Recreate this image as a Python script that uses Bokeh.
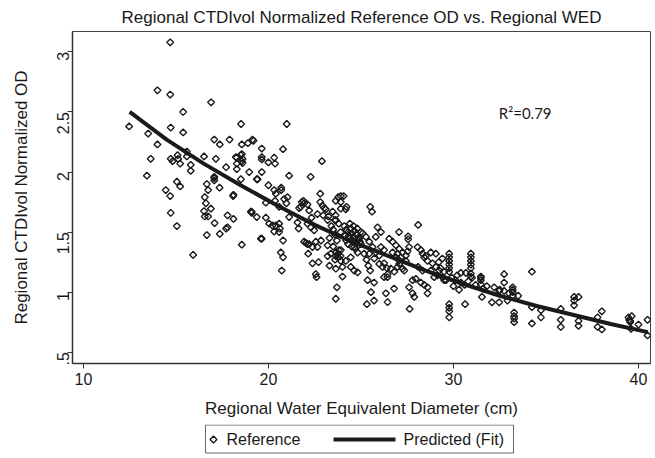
import math
from bokeh.plotting import figure
from bokeh.models import Range1d, FixedTicker, Label
from bokeh.layouts import column
from bokeh.core.properties import value
from bokeh.embed import file_html
from bokeh.resources import INLINE

# ---------------- data ----------------
wed = [
    14.69, 14.0, 14.69, 16.9, 15.39, 12.47, 14.72, 13.5, 15.39, 14.0, 17.07, 17.37, 17.9,
    13.64, 14.72, 14.82, 15.09, 15.12, 15.23, 15.59, 15.59, 15.8, 15.8, 16.52, 17.16, 17.71,
    13.43, 15.05, 15.23, 17.07, 17.07, 16.67, 17.36, 14.45, 14.69, 16.74, 16.56, 16.62, 16.52,
    16.56, 16.89, 16.74, 17.79, 14.72, 15.05, 17.09, 17.71, 16.67, 17.37, 15.93, 17.07,
    18.28, 18.51, 18.6, 18.29, 18.6, 18.96, 19.41, 18.51, 18.11, 19.09, 19.37, 18.56, 19.59, 18.11,
    18.52, 20.99, 18.56, 18.89, 19.14, 19.64, 20.79, 18.24, 18.56, 18.56, 18.29, 19.64, 19.64,
    20.0, 20.31, 20.36, 22.89, 19.64, 21.12, 22.28, 19.37, 18.09, 20.0, 20.31, 20.4, 20.69,
    20.69, 19.86, 20.36, 20.85, 21.03, 20.97, 20.58, 21.75, 21.8, 21.93, 22.8, 22.8, 22.92,
    23.1, 22.96, 19.05, 19.1, 17.79, 19.86, 20.04, 20.22, 20.4, 20.58, 20.62, 20.58, 20.31,
    21.12, 21.57, 21.63, 22.11, 22.29, 22.47, 19.64, 20.79, 21.93, 22.11, 22.15, 22.38, 22.56,
    22.65, 20.67, 20.79, 22.38, 22.71, 20.72, 22.56, 22.6, 19.19,
    21.89, 21.66, 22.11, 22.2, 22.33, 22.65, 23.02, 23.24, 23.47, 23.64, 23.77, 24.06, 24.18,
    22.02, 22.2, 22.84, 23.2, 23.37, 23.64, 23.77, 23.91, 24.18, 24.45, 24.63, 24.82, 24.9, 25.0,
    23.91, 23.64, 23.91, 24.22, 23.91, 23.63, 23.59, 25.5, 25.6, 28.09, 27.06, 27.55, 27.55,
    24.1, 24.2, 24.3, 24.35, 24.4, 24.45, 24.5, 24.55, 24.6, 24.65, 24.7, 24.75, 24.8, 24.85,
    24.9, 24.95, 25.0, 24.2, 24.3, 24.5, 24.7, 24.15, 24.4, 24.6, 24.8,
    25.9, 26.08, 25.8, 26.08, 26.25, 25.17, 25.3, 25.4, 25.5, 26.71, 26.98, 27.16, 27.43, 27.52,
    26.25, 26.4, 26.43, 23.64, 24.0, 24.45, 24.63, 24.82, 24.0, 23.7, 23.64, 25.71, 25.54, 25.71,
    25.32, 26.35, 26.44, 26.79, 27.6, 27.79, 27.88, 27.63, 27.79, 27.97, 28.24, 28.42, 28.6, 28.6,
    28.24, 28.33, 28.51, 28.78, 28.6, 28.87, 29.05, 28.09, 28.33, 28.78, 28.96, 29.14,
    23.64, 23.77, 23.91, 25.36, 26.25, 26.44, 26.62, 26.8, 26.98, 27.07, 27.34, 27.6, 28.06,
    28.42, 29.41,
    25.09, 25.27, 25.45, 25.63, 25.81, 25.99, 25.45, 25.72, 25.99, 26.17, 26.53, 26.71, 26.89,
    27.07, 27.25, 27.43, 26.89, 27.07, 27.25,
    23.2, 23.4, 23.5, 23.6, 23.3, 23.7, 23.8, 23.9, 23.5, 23.8, 23.2, 23.6, 23.9, 23.3,
    29.77, 29.77, 29.77, 29.77, 29.77, 29.77, 30.94, 30.94, 30.94, 30.94, 30.94, 30.94, 30.94,
    29.77, 29.77, 29.77, 29.77, 30.63, 30.4, 30.67, 31.48, 31.48, 31.54, 32.08, 32.47, 32.47,
    32.74, 32.74, 32.74, 33.2, 33.2, 33.2, 33.2, 32.92, 33.28, 33.28, 33.28, 33.28, 34.24, 34.24,
    34.24, 34.73, 34.73, 35.8, 35.8, 35.8, 36.52, 36.52, 36.52, 36.76, 36.76, 36.76, 37.79,
    38.02, 37.79, 38.02, 39.46, 39.5, 39.63, 40.0, 40.49, 40.49, 39.6, 39.55, 39.55, 29.05,
    29.23, 29.5,
    29.3, 29.5, 29.9, 30.1, 30.2, 30.4, 30.6, 30.8, 29.6, 30.0, 30.3, 31.0, 31.2, 31.6, 31.8,
    32.2, 32.5, 33.0, 33.5, 29.2, 29.4, 31.48, 31.48,
]
od = [
    3.08, 2.68, 2.645, 2.58, 2.50, 2.38, 2.37, 2.32, 2.33, 2.23, 2.27, 2.23, 2.27,
    2.11, 2.11, 2.09, 2.14, 2.11, 2.07, 2.17, 2.13, 2.06, 2.01, 2.13, 2.11, 2.04,
    1.97, 1.92, 1.88, 1.96, 1.93, 1.90, 1.87, 1.85, 1.80, 1.85, 1.79, 1.74, 1.675,
    1.63, 1.695, 1.63, 1.64, 1.66, 1.55, 1.575, 1.53, 1.475, 1.485, 1.31, 1.95,
    2.12, 2.14, 2.11, 2.07, 2.075, 2.0, 1.94, 1.94, 1.81, 1.67, 1.625, 1.395, 1.445, 1.61,
    2.40, 2.40, 2.23, 2.24, 2.27, 2.195, 2.19, 2.125, 2.15, 2.09, 2.025, 2.125, 2.105,
    2.08, 2.12, 2.07, 2.09, 2.0, 1.97, 1.96, 1.94, 1.80, 1.89, 1.85, 1.82, 1.87,
    1.85, 1.745, 1.76, 1.775, 1.79, 1.74, 1.71, 1.71, 1.75, 1.74, 1.82, 1.75, 1.72,
    1.69, 1.64, 1.67, 1.66, 1.54, 1.62, 1.57, 1.555, 1.555, 1.57, 1.53, 1.50, 1.505,
    1.625, 1.58, 1.53, 1.57, 1.54, 1.515, 1.445, 1.43, 1.42, 1.40, 1.32, 1.375, 1.42,
    1.375, 1.33, 1.29, 1.24, 1.25, 1.18, 1.15, 1.125, 2.26,
    1.76, 1.70, 1.73, 1.68, 1.62, 1.65, 1.70, 1.63, 1.67, 1.60, 1.79, 1.80, 1.69,
    1.41, 1.40, 1.43, 1.39, 1.32, 1.30, 1.32, 1.35, 1.26, 1.29, 1.375, 1.33, 1.445, 1.40,
    1.80, 1.76, 1.75, 1.71, 1.695, 1.64, 1.60, 1.71, 1.67, 1.56, 1.50, 1.465, 1.44,
    1.55, 1.52, 1.50, 1.47, 1.45, 1.53, 1.49, 1.43, 1.46, 1.51, 1.41, 1.48, 1.44, 1.39,
    1.46, 1.42, 1.50, 1.43, 1.40, 1.38, 1.36, 1.47, 1.57, 1.55, 1.53,
    1.54, 1.50, 1.46, 1.375, 1.35, 1.32, 1.27, 1.22, 1.18, 1.33, 1.32, 1.29, 1.26, 1.34,
    1.24, 1.20, 1.125, 1.195, 1.21, 1.21, 1.18, 1.165, 1.13, 1.04, 0.945, 1.08, 1.0, 0.93,
    0.90, 0.99, 0.917, 1.03, 1.04, 0.99, 0.96, 0.86, 1.10, 1.11, 1.08, 1.06, 1.04, 0.99,
    1.35, 1.32, 1.30, 1.33, 1.26, 1.24, 1.21, 1.21, 1.18, 1.18, 1.125, 1.14,
    1.33, 1.29, 1.26, 1.10, 1.125, 1.15, 1.195, 1.17, 1.21, 1.265, 1.18, 1.375, 1.375,
    1.29, 1.125,
    1.49, 1.46, 1.42, 1.375, 1.33, 1.305, 1.32, 1.28, 1.235, 1.21, 1.445, 1.42, 1.39,
    1.36, 1.33, 1.305, 1.29, 1.235, 1.195,
    1.60, 1.55, 1.52, 1.48, 1.45, 1.43, 1.57, 1.50, 1.38, 1.35, 1.30, 1.27, 1.30, 1.22,
    1.32, 1.29, 1.26, 1.23, 1.20, 1.17, 1.32, 1.29, 1.26, 1.23, 1.20, 1.155, 1.13,
    0.90, 0.87, 0.84, 0.79, 0.90, 1.16, 1.16, 1.13, 1.10, 0.96, 0.915, 0.915, 1.01,
    1.01, 1.15, 1.08, 1.04, 1.02, 1.0, 0.97, 0.93, 0.83, 0.80, 0.78, 0.75, 1.17, 0.875,
    0.74, 0.85, 0.79, 0.86, 0.77, 0.71, 0.96, 0.93, 0.89, 0.96, 0.76, 0.72, 0.79,
    0.84, 0.71, 0.69, 0.79, 0.77, 0.80, 0.73, 0.77, 0.64, 0.695, 0.76, 0.75, 1.32,
    1.18, 1.10,
    1.20, 1.17, 1.12, 1.10, 1.14, 1.08, 1.06, 1.09, 1.10, 1.05, 1.02, 1.12, 1.06, 1.03, 1.05,
    1.04, 1.02, 0.99, 0.97, 1.25, 1.28, 1.12, 1.065,
]

fit_x = [12.5, 14.5, 16.5, 18.5, 20.5, 22.5, 24.5, 26.5, 28.5, 30.5, 32.5, 34.5, 36.5, 38.5, 40.5]
fit_y = [2.50, 2.27, 2.07, 1.89, 1.72, 1.56, 1.42, 1.30, 1.18, 1.07, 0.97, 0.885, 0.81, 0.735, 0.667]

x_ticks = [10, 20, 30, 40]
y_ticks = [0.5, 1, 1.5, 2, 2.5, 3]
y_tick_labels = [".5", "1", "1.5", "2", "2.5", "3"]
legend_labels = ["Reference", "Predicted (Fit)"]

FONT = "Liberation Sans"
INK = "#1a1a1a"

# ---------------- main plot ----------------
p = figure(width=655, height=424, output_backend="svg", toolbar_location=None,
           x_range=Range1d(9.41, 40.65), y_range=Range1d(0.406, 3.17),
           min_border_left=72, min_border_right=5, min_border_top=31, min_border_bottom=61,
           background_fill_color="white", border_fill_color="white")

p.title.text = "Regional CTDIvol Normalized Reference OD vs. Regional WED"
p.title.align = "center"
p.title.text_font = FONT
p.title.text_font_size = "17px"
p.title.text_font_style = "normal"
p.title.text_color = INK

p.xgrid.visible = False
p.ygrid.visible = False
p.outline_line_color = "#444444"
p.outline_line_width = 1

for ax in (p.xaxis[0], p.yaxis[0]):
    ax.major_tick_out = 5
    ax.major_tick_in = 0
    ax.minor_tick_out = 0
    ax.minor_tick_in = 0
    ax.axis_line_color = "#333333"
    ax.axis_line_width = 1.5
    ax.major_tick_line_color = "#333333"
    ax.major_label_text_font = FONT
    ax.major_label_text_font_size = "16px"
    ax.major_label_text_color = INK
    ax.axis_label_text_font = FONT
    ax.axis_label_text_font_size = "17px"
    ax.axis_label_text_font_style = "normal"
    ax.axis_label_text_color = INK

p.xaxis.ticker = FixedTicker(ticks=x_ticks)
p.yaxis.ticker = FixedTicker(ticks=y_ticks)
p.yaxis.major_label_overrides = {t: l for t, l in zip(y_ticks, y_tick_labels)}
p.yaxis.major_label_orientation = math.pi / 2
p.xaxis.axis_label = "Regional Water Equivalent Diameter (cm)"
p.yaxis.axis_label = "Regional CTDIvol Normalized OD"
p.xaxis.major_label_standoff = 4
p.xaxis.axis_label_standoff = 11
p.yaxis.major_label_standoff = 4
p.yaxis.axis_label_standoff = 18

p.scatter(wed, od, marker="square", angle=math.pi / 4, size=4.8,
          fill_color=None, line_color=INK, line_width=1.4)
p.line(fit_x, fit_y, line_color=INK, line_width=4)

p.add_layout(Label(x=32.45, y=2.49, text="R²=0.79", text_font="Lato",
                   text_font_size="15px", text_baseline="middle", text_color=INK))

# ---------------- legend strip (frame aligned with main frame: 72..650 px) ----------------
lg = figure(width=655, height=34, output_backend="svg", toolbar_location=None,
            x_range=Range1d(72, 650), y_range=Range1d(0, 34),
            x_axis_location=None, y_axis_location=None,
            min_border_left=72, min_border_right=5,
            min_border_top=0, min_border_bottom=0,
            background_fill_color="white", border_fill_color="white")
lg.xgrid.visible = False
lg.ygrid.visible = False
lg.outline_line_color = None

lg.quad(left=[205], right=[513], bottom=[5.5], top=[33.5], fill_color=None,
        line_color="#666666", line_width=1)
lg.scatter([213], [19], marker="square", angle=math.pi / 4, size=4.8,
           fill_color=None, line_color=INK, line_width=1.4)
lg.line([333, 395], [19, 19], line_color=INK, line_width=4)
lg.text(x=[226, 403], y=[19, 19], text=legend_labels, text_font=value(FONT),
        text_font_size="16px", text_baseline="middle", text_align="left", text_color=INK)

layout = column(p, lg, spacing=0)
open("out.html", "w").write(file_html(layout, INLINE))
